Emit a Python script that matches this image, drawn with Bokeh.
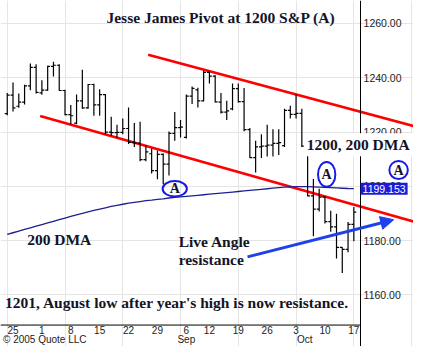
import pandas as pd
from bokeh.plotting import figure
from bokeh.models import (LinearAxis, FixedTicker, Range1d, Label, Arrow,
                          NormalHead, PrintfTickFormatter, ColumnDataSource)
from bokeh.core.properties import value
from bokeh.embed import file_html
from bokeh.resources import INLINE

# ---------------- data ----------------
start_date = "2005-07-22"
end_date = "2005-10-17"
holidays = ["2005-09-05"]
days = [d for d in pd.bdate_range(start_date, end_date)
        if d.strftime("%Y-%m-%d") not in holidays]
idx = list(range(len(days)))

opens = [1226.8, 1233.6, 1229.5, 1231.0, 1237.0, 1243.8, 1234.4, 1235.4, 1244.2, 1244.6,
         1235.3, 1226.4, 1223.3, 1231.5, 1228.9, 1237.5, 1230.0, 1233.8, 1220.0, 1219.8,
         1219.9, 1221.3, 1216.2, 1215.9, 1209.8, 1212.0, 1205.8, 1211.8, 1208.2, 1219.5,
         1221.6, 1218.0, 1233.2, 1235.5, 1231.5, 1242.0, 1240.6, 1231.0, 1227.3, 1228.5,
         1236.0, 1231.2, 1220.9, 1210.6, 1214.5, 1214.8, 1215.2, 1215.8, 1215.0, 1228.0,
         1226.5, 1226.9, 1215.0, 1196.5, 1191.6, 1196.0, 1187.0, 1185.1, 1177.5, 1176.8,
         1186.0]
highs = [1234.4, 1238.2, 1234.2, 1237.4, 1245.2, 1245.0, 1239.1, 1244.4, 1245.9, 1245.0,
         1235.6, 1230.0, 1233.8, 1242.9, 1237.7, 1237.8, 1235.8, 1234.0, 1225.6, 1222.7,
         1225.0, 1229.0, 1223.3, 1223.8, 1215.0, 1213.9, 1213.2, 1212.1, 1220.2, 1227.4,
         1224.4, 1233.8, 1236.8, 1236.3, 1242.6, 1242.2, 1240.9, 1234.4, 1231.5, 1237.9,
         1237.9, 1236.2, 1221.5, 1216.8, 1219.2, 1222.7, 1221.0, 1221.0, 1228.6, 1229.7,
         1233.8, 1228.6, 1215.5, 1202.7, 1199.1, 1196.3, 1191.0, 1189.9, 1177.6, 1186.9,
         1192.4]
lows = [1226.2, 1227.6, 1228.9, 1230.1, 1235.4, 1234.2, 1233.7, 1235.2, 1240.5, 1235.2,
        1226.2, 1222.9, 1222.9, 1228.6, 1228.6, 1226.0, 1226.0, 1219.2, 1218.6, 1218.0,
        1219.2, 1215.6, 1214.5, 1209.2, 1209.2, 1204.7, 1202.6, 1200.8, 1204.0, 1216.8,
        1218.0, 1217.6, 1230.3, 1229.0, 1231.3, 1237.9, 1230.9, 1226.8, 1224.4, 1228.0,
        1230.9, 1220.3, 1210.4, 1205.1, 1210.4, 1211.0, 1211.0, 1211.5, 1214.5, 1225.0,
        1225.0, 1214.5, 1196.3, 1181.6, 1190.7, 1186.3, 1183.3, 1173.4, 1168.1, 1175.7,
        1179.8]
closes = [1233.6, 1228.9, 1231.0, 1237.0, 1243.8, 1234.6, 1235.4, 1244.2, 1244.6, 1235.3,
          1226.4, 1226.0, 1231.5, 1228.9, 1237.5, 1230.0, 1233.8, 1220.0, 1219.8, 1219.9,
          1221.3, 1216.2, 1215.9, 1209.8, 1212.7, 1205.8, 1211.8, 1208.2, 1219.5, 1221.6,
          1221.8, 1233.2, 1236.1, 1231.5, 1242.0, 1240.6, 1231.1, 1227.3, 1227.8, 1236.0,
          1231.2, 1220.9, 1210.6, 1214.5, 1214.8, 1215.2, 1215.8, 1216.1, 1228.0, 1226.5,
          1226.9, 1214.8, 1196.5, 1191.6, 1196.0, 1187.0, 1185.1, 1177.5, 1176.8, 1186.0,
          1190.5]
dma200 = [1182.3, 1182.9, 1183.5, 1184.1, 1184.7, 1185.3, 1185.9, 1186.5, 1187.1, 1187.7,
          1188.3, 1188.9, 1189.5, 1190.0, 1190.6, 1191.1, 1191.6, 1192.1, 1192.6, 1193.0,
          1193.4, 1193.8, 1194.1, 1194.4, 1194.7, 1194.9, 1195.2, 1195.4, 1195.7, 1195.9,
          1196.1, 1196.3, 1196.5, 1196.7, 1196.9, 1197.1, 1197.3, 1197.5, 1197.7, 1197.9,
          1198.1, 1198.3, 1198.5, 1198.7, 1198.9, 1199.1, 1199.3, 1199.5, 1199.7, 1199.8,
          1199.9, 1199.9, 1199.9, 1199.8, 1199.7, 1199.6, 1199.5, 1199.4, 1199.3, 1199.2,
          1199.153]
dma_last_label = "1199.153"

# analyst trend channel (bar index, price)
upper_chan_x = [24.4, 70.5]
upper_chan_y = [1248.5, 1222.1]
lower_chan_x = [5.7, 70.5]
lower_chan_y = [1225.9, 1186.9]

# "live angle" arrow (bar index, price)
arrow_x = [41.6, 66.9]
arrow_y = [1174.0, 1187.7]

# pivot markers "A"
pivot_x = [29.0, 55.3, 67.75]
pivot_y = [1199.1, 1204.4, 1206.0]
pivot_w = [4.2, 3.0, 3.2]
pivot_h = [5.7, 9.2, 6.7]

# notes
title_text = "Jesse James Pivot at 1200 S&P (A)"
center_notes = [title_text, "200 DMA", "1201, August low after year's high is now resistance."]
center_notes_x = [37.0, 9.0, 29.4]
center_notes_y = [1262.1, 1180.4, 1157.2]
left_notes = ["Live Angle", "resistance"]
left_notes_x = [29.67, 29.67]
left_notes_y = [1179.7, 1173.0]
dma_note = "1200, 200 DMA"
dma_note_x = 60.75
dma_note_y = 1215.3

# axes
price_ticks = [1160, 1180, 1200, 1220, 1240, 1260]
week_dates = ["2005-07-25", "2005-08-01", "2005-08-08", "2005-08-15", "2005-08-22",
              "2005-08-29", "2005-09-06", "2005-09-12", "2005-09-19", "2005-09-26",
              "2005-10-03", "2005-10-10", "2005-10-17"]
week_labels = ["25", "1", "8", "15", "22", "29", "6", "12", "19", "26", "3", "10", "17"]
month_labels = ["Sep", "Oct"]
month_pos = [31.0, 51.5]
copyright_text = "\u00a9 2005 Quote LLC"
copyright_pos = 6.5

# ---------------- figure ----------------
date_str = [d.strftime("%Y-%m-%d") for d in days]
week_idx = [date_str.index(w) for w in week_dates]
axis_x = 61.17          # location of the price axis (bar index units)
axis_y = 1148.9         # location of the date axis (price units)
month_row_y = 1145.6    # location of the month row

p = figure(width=413, height=346, x_range=Range1d(-1.167, 70.33),
           y_range=Range1d(1141.0, 1268.45), output_backend="svg",
           toolbar_location=None, x_axis_location=None, y_axis_location=None,
           min_border=0)
p.outline_line_color = None
p.background_fill_color = "white"
p.border_fill_color = "white"

src = ColumnDataSource(dict(x=idx, o=opens, h=highs, l=lows, c=closes,
                            xl=[i - 0.42 for i in idx], xr=[i + 0.42 for i in idx]))

# trend channel
p.line(upper_chan_x, upper_chan_y, line_color="#ff0000", line_width=2.6)
p.line(lower_chan_x, lower_chan_y, line_color="#ff0000", line_width=2.6)

# 200 DMA
p.line(idx, dma200, line_color="#1f1f8f", line_width=1.3)

# OHLC bars
p.segment(x0="x", y0="l", x1="x", y1="h", source=src, line_color="black", line_width=1.2)
p.segment(x0="xl", y0="o", x1="x", y1="o", source=src, line_color="black", line_width=1.2)
p.segment(x0="x", y0="c", x1="xr", y1="c", source=src, line_color="black", line_width=1.2)

# x axis line (stops at the price axis)
p.segment(x0=[-1.167], y0=[axis_y], x1=[axis_x], y1=[axis_y], line_color="black", line_width=1)

# pivot ellipses
p.ellipse(x=pivot_x, y=pivot_y, width=pivot_w, height=pivot_h,
          fill_alpha=0, line_color="#1a1ae6", line_width=2)
p.text(x=pivot_x, y=pivot_y, text=["A"] * len(pivot_x), text_align="center",
       text_baseline="middle", text_font=value("Liberation Serif"), text_font_style="bold",
       text_font_size="14px", text_color="#141428")

# notes
p.text(x=center_notes_x, y=center_notes_y, text=center_notes, text_align="center",
       text_baseline="middle", text_font=value("Liberation Serif"), text_font_style="bold",
       text_font_size="15.5px", text_color="#141428")
p.text(x=left_notes_x, y=left_notes_y, text=left_notes, text_align="left",
       text_baseline="middle", text_font=value("Liberation Serif"), text_font_style="bold",
       text_font_size="15.5px", text_color="#141428")

# arrow
p.add_layout(Arrow(x_start=arrow_x[0], y_start=arrow_y[0], x_end=arrow_x[1], y_end=arrow_y[1],
                   line_color="#2040ea", line_width=3,
                   end=NormalHead(size=13, fill_color="#2040ea", line_color="#2040ea")))

# y axis (inside the frame, at right)
yax = LinearAxis(fixed_location=axis_x, ticker=FixedTicker(ticks=price_ticks),
                 formatter=PrintfTickFormatter(format="%.2f"))
yax.axis_line_color = "black"
yax.major_tick_line_color = None
yax.minor_tick_line_color = None
yax.major_tick_out = 0
yax.major_tick_in = 0
yax.major_label_standoff = 3
yax.major_label_text_font = "Liberation Sans"
yax.major_label_text_font_size = "10.5px"
yax.major_label_text_color = "#222222"
p.add_layout(yax, "right")

# x axes (inside the frame, at the bottom)
xax = LinearAxis(fixed_location=axis_y, ticker=FixedTicker(ticks=week_idx),
                 major_label_overrides={i: t for i, t in zip(week_idx, week_labels)})
max_ = LinearAxis(fixed_location=month_row_y, ticker=FixedTicker(ticks=month_pos + [copyright_pos]),
                  major_label_overrides=dict(list(zip(month_pos, month_labels)) + [(copyright_pos, copyright_text)]))
for ax in (xax, max_):
    ax.axis_line_color = None
    ax.major_tick_line_color = None
    ax.minor_tick_line_color = None
    ax.major_tick_out = 0
    ax.major_tick_in = 0
    ax.major_label_standoff = 1
    ax.major_label_text_font = "Liberation Sans"
    ax.major_label_text_font_size = "10px"
    ax.major_label_text_color = "#222222"
max_.major_label_standoff = 0
p.add_layout(xax, "below")
p.add_layout(max_, "below")

# labels over the axis
p.add_layout(Label(x=dma_note_x, y=dma_note_y, text=dma_note, text_align="center",
                   text_baseline="middle", text_font="Liberation Serif",
                   text_font_style="bold", text_font_size="15.5px", text_color="#141428",
                   background_fill_color="white", padding=3))
p.add_layout(Label(x=axis_x, y=dma200[-1], text=dma_last_label, text_align="left",
                   text_baseline="middle", text_font="Liberation Sans",
                   text_font_size="10.5px", text_color="white",
                   background_fill_color="#1c1cd8", padding=2))

open("out.html", "w").write(file_html(p, INLINE))
